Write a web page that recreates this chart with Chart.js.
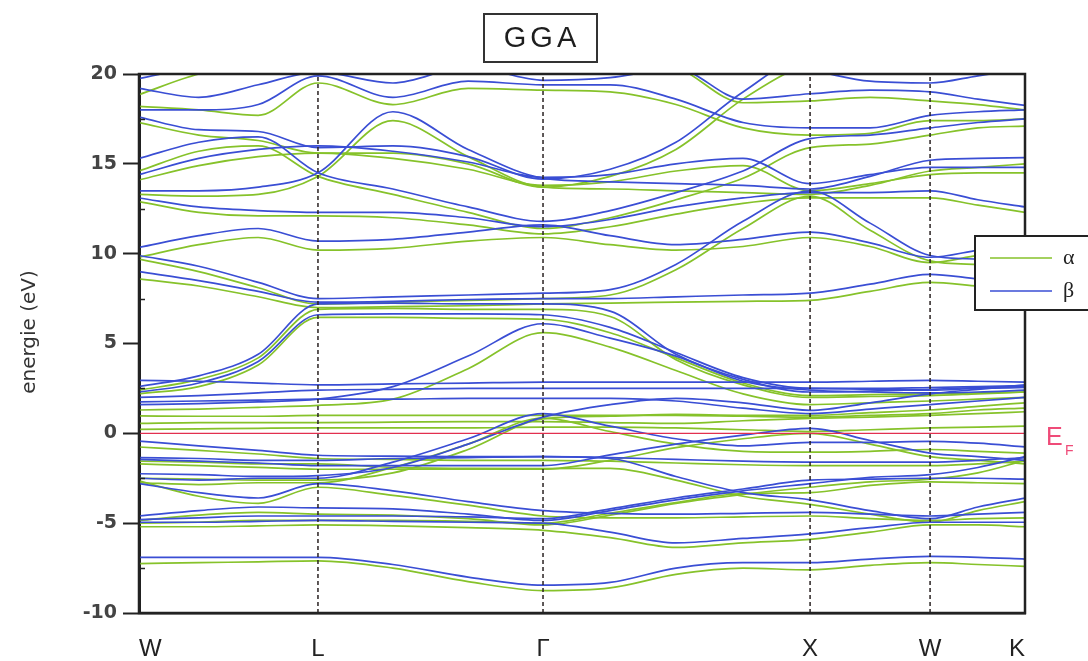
<!DOCTYPE html>
<html>
<head>
<meta charset="utf-8">
<script src="https://cdn.jsdelivr.net/npm/chart.js@4.4.1/dist/chart.umd.min.js"></script>
<style>
  html, body { margin: 0; padding: 0; background: #fff; }
  #wrap { width: 1088px; height: 661px; }
</style>
</head>
<body>
<div id="wrap"><canvas id="bands" width="1088" height="661"></canvas></div>
<script>
// k-path sample positions (W - L - Γ - X - W - K), in units of 2π/a
const kPath = [0, 0.236, 0.471, 0.707, 1.003, 1.3, 1.596, 1.861, 2.121, 2.386, 2.651, 2.888, 3.125, 3.314, 3.5];
const kTicks = [0, 0.707, 1.596, 2.651, 3.125, 3.5];
const kLabels = ['W', 'L', 'Γ', 'X', 'W', 'K'];
const energyTicks = [-10, -5, 0, 5, 10, 15, 20];
const spinLabels = ['α', 'β'];
const axisTitle = 'energie (eV)';
const fermiLevel = 0;

// spin-up (α) bands, eV, one row per band at the kPath samples
const alphaBands = [
  [-7.25,-7.2,-7.15,-7.1,-7.5,-8.25,-8.75,-8.6,-7.85,-7.5,-7.6,-7.35,-7.2,-7.3,-7.4],
  [-5.2,-5.2,-5.15,-5.1,-5.15,-5.25,-5.4,-5.8,-6.35,-6.1,-5.9,-5.5,-5.1,-5.1,-5.2],
  [-4.85,-4.55,-4.4,-4.5,-4.55,-4.75,-5.1,-4.55,-3.9,-3.4,-3.0,-2.7,-2.55,-2.2,-1.5],
  [-5.0,-4.95,-4.85,-4.85,-4.85,-4.9,-5.0,-4.45,-3.85,-3.35,-3.3,-2.9,-2.7,-2.75,-2.8],
  [-2.65,-3.5,-3.9,-3.0,-3.45,-4.0,-4.6,-4.7,-4.7,-4.65,-4.6,-4.75,-4.85,-4.75,-4.7],
  [-1.55,-1.6,-1.7,-1.7,-1.9,-1.95,-1.96,-1.95,-2.6,-3.5,-3.95,-4.5,-4.95,-4.3,-3.8],
  [-2.5,-2.55,-2.6,-2.6,-2.2,-0.9,0.8,0.95,1.05,1.0,1.0,1.15,1.3,1.5,1.7],
  [-2.75,-2.85,-2.75,-2.75,-1.9,-0.6,0.85,0.1,-0.6,-1.0,-1.05,-1.0,-0.9,-1.0,-1.1],
  [-0.76,-0.95,-1.15,-1.4,-1.45,-1.5,-1.5,-1.55,-1.65,-1.75,-1.8,-1.8,-1.8,-1.7,-1.55],
  [-1.7,-1.8,-1.9,-2.0,-2.0,-2.0,-2.0,-1.5,-0.8,-0.3,0.0,-0.6,-1.3,-1.5,-1.7],
  [0.22,0.25,0.28,0.3,0.3,0.3,0.35,0.35,0.3,0.2,0.1,0.2,0.3,0.35,0.4],
  [0.55,0.6,0.6,0.6,0.62,0.65,0.65,0.6,0.55,0.7,0.83,0.9,1.0,1.1,1.2],
  [0.97,0.95,0.95,1.0,1.0,1.0,1.0,1.0,1.0,0.95,0.9,1.0,1.1,1.3,1.4],
  [1.3,1.35,1.45,1.56,1.9,3.6,5.6,4.8,3.5,2.2,1.6,1.7,1.8,1.9,2.0],
  [2.2,2.6,3.8,6.45,6.45,6.4,6.35,5.6,4.2,2.8,2.1,2.15,2.2,2.25,2.3],
  [2.4,3.0,4.2,6.9,6.95,6.9,6.9,6.5,4.1,2.7,2.0,2.05,2.1,2.2,2.3],
  [8.6,8.2,7.6,7.0,7.05,7.1,7.2,7.25,7.3,7.35,7.4,7.9,8.4,8.2,8.0],
  [9.7,9.0,8.1,7.2,7.3,7.4,7.5,7.7,9.1,11.4,13.2,11.3,9.6,9.4,9.3],
  [9.8,10.5,10.9,10.2,10.3,10.7,10.9,10.5,10.2,10.4,10.9,10.4,9.5,9.9,10.2],
  [12.9,12.3,12.1,12.1,12.0,11.6,11.1,11.5,12.2,12.8,13.1,13.1,13.1,12.7,12.3],
  [13.3,13.2,13.3,14.3,17.4,15.4,13.7,13.6,13.5,13.4,13.3,13.8,14.6,14.8,15.0],
  [17.3,16.6,16.3,15.6,15.6,15.0,13.7,14.3,15.8,18.6,20.6,21,21,21,21],
  [14.6,15.7,16.0,14.3,13.3,12.3,11.4,12.0,13.0,14.2,15.9,16.1,16.6,17.0,17.1],
  [18.2,18.0,17.7,19.5,18.3,19.2,19.1,19.0,18.3,17.0,16.6,16.7,17.4,17.4,17.5],
  [18.85,20.0,20.6,21,21,21,21,21,20.4,18.4,18.5,18.7,18.5,18.3,18.0],
  [14.1,14.9,15.4,15.6,15.3,14.7,13.8,14.0,14.6,14.9,13.5,13.9,14.4,14.5,14.5]
];

// spin-down (β) bands, eV
const betaBands = [
  [-6.9,-6.9,-6.9,-6.9,-7.3,-8.0,-8.45,-8.3,-7.5,-7.2,-7.2,-7.0,-6.85,-6.9,-7.0],
  [-4.95,-4.95,-4.9,-4.85,-4.9,-4.95,-5.0,-5.5,-6.1,-5.85,-5.6,-5.25,-4.95,-4.95,-4.95],
  [-4.6,-4.3,-4.1,-4.15,-4.2,-4.5,-4.85,-4.3,-3.7,-3.2,-2.8,-2.45,-2.3,-1.9,-1.3],
  [-4.8,-4.7,-4.6,-4.6,-4.6,-4.65,-4.75,-4.2,-3.6,-3.1,-2.6,-2.55,-2.5,-2.5,-2.55],
  [-2.8,-3.3,-3.6,-2.8,-3.2,-3.8,-4.3,-4.45,-4.5,-4.45,-4.4,-4.5,-4.6,-4.5,-4.4],
  [-1.35,-1.4,-1.5,-1.5,-1.4,-1.35,-1.3,-1.4,-2.4,-3.3,-3.7,-4.3,-4.75,-4.1,-3.6],
  [-2.25,-2.3,-2.4,-2.35,-1.9,-0.6,0.9,1.6,1.95,1.7,1.28,1.7,2.2,2.45,2.7],
  [-2.5,-2.6,-2.5,-2.5,-1.6,-0.3,1.1,0.4,-0.3,-0.7,-0.5,-0.5,-0.45,-0.55,-0.75],
  [-0.43,-0.7,-0.95,-1.22,-1.27,-1.3,-1.3,-1.35,-1.45,-1.55,-1.6,-1.6,-1.6,-1.5,-1.35],
  [-1.45,-1.55,-1.65,-1.8,-1.8,-1.8,-1.8,-1.2,-0.6,-0.1,0.28,-0.4,-1.1,-1.3,-1.5],
  [1.75,1.8,1.85,1.9,1.9,1.95,1.95,1.95,1.8,1.4,1.1,1.35,1.6,1.8,2.0],
  [2.0,2.1,2.25,2.4,2.45,2.5,2.5,2.5,2.5,2.5,2.5,2.45,2.4,2.5,2.55],
  [2.95,2.9,2.8,2.7,2.75,2.8,2.85,2.85,2.85,2.85,2.85,2.9,2.95,2.9,2.85],
  [2.3,2.8,4.0,6.6,6.65,6.65,6.6,5.9,4.5,3.1,2.5,2.5,2.55,2.6,2.65],
  [2.6,3.2,4.4,7.2,7.25,7.2,7.2,6.8,4.4,3.0,2.3,2.35,2.45,2.55,2.6],
  [1.6,1.65,1.75,1.9,2.6,4.3,6.1,5.3,4.3,2.9,2.4,2.3,2.25,2.3,2.4],
  [9.0,8.5,7.9,7.3,7.35,7.45,7.5,7.5,7.6,7.7,7.8,8.3,8.85,8.6,8.4],
  [9.9,9.3,8.4,7.5,7.6,7.7,7.8,8.0,9.4,11.8,13.5,11.7,9.9,9.7,9.6],
  [10.35,11.0,11.4,10.7,10.8,11.2,11.6,11.0,10.5,10.8,11.2,10.6,9.8,10.2,10.6],
  [13.1,12.6,12.4,12.3,12.3,12.0,11.5,11.9,12.6,13.1,13.4,13.4,13.5,13.0,12.6],
  [13.5,13.5,13.7,14.5,17.9,15.8,14.2,14.0,13.9,13.8,13.6,14.3,15.2,15.3,15.35],
  [17.6,16.9,16.8,15.9,16.0,15.4,14.15,14.7,16.2,19.0,21,21,21,21,21],
  [15.3,16.2,16.5,14.5,13.6,12.6,11.8,12.4,13.4,14.6,16.4,16.6,17.0,17.3,17.5],
  [18.0,18.0,18.3,19.9,18.7,19.6,19.4,19.4,18.6,17.3,17.0,17.0,17.7,17.9,18.0],
  [19.2,18.7,19.4,20.1,19.5,20.4,19.65,19.8,20.3,18.6,18.9,19.1,19.0,18.6,18.25],
  [19.75,20.4,20.6,21,21,21,21,21,21,20.6,20.2,19.6,19.5,19.9,20.3],
  [14.4,15.3,15.8,16.0,15.7,15.1,14.25,14.4,15.0,15.3,13.9,14.4,14.8,14.8,14.8]
];

const ALPHA_COLOR = '#86c22a';
const BETA_COLOR = '#3a4ed4';
const FERMI_COLOR = '#e2304f';
const EMIN = -10, EMAX = 20;

function bandSet(rows, color, label) {
  return rows.map((row, i) => ({
    label: i === 0 ? label : '',
    data: row.map((e, j) => ({ x: kPath[j], y: e })),
    borderColor: color,
    borderWidth: 1.7,
    pointRadius: 0,
    cubicInterpolationMode: 'monotone',
    fill: false
  }));
}

// dashed markers at the interior high-symmetry points
const markerSets = kTicks.slice(1, -1).map(k => ({
  label: '',
  data: [{ x: k, y: EMIN }, { x: k, y: EMAX }],
  borderColor: '#2a2222',
  borderWidth: 1.5,
  borderDash: [4, 3],
  pointRadius: 0,
  tension: 0
}));

const fermiSet = {
  label: 'EF',
  data: [{ x: kTicks[0], y: fermiLevel }, { x: kTicks[kTicks.length - 1], y: fermiLevel }],
  borderColor: FERMI_COLOR,
  borderWidth: 1.3,
  pointRadius: 0,
  tension: 0
};

const decorations = {
  id: 'decorations',
  afterDraw(chart) {
    const { ctx, chartArea: a, scales } = chart;
    const ys = scales.y;
    ctx.save();

    // frame
    ctx.strokeStyle = '#222';
    ctx.lineWidth = 2.5;
    ctx.strokeRect(a.left, a.top, a.right - a.left, a.bottom - a.top);

    // minor ticks on the energy axis
    ctx.lineWidth = 1.5;
    for (let e = EMIN + 2.5; e < EMAX; e += 5) {
      const y = Math.round(ys.getPixelForValue(e)) + 0.5;
      ctx.beginPath();
      ctx.moveTo(a.left, y);
      ctx.lineTo(a.left + 6, y);
      ctx.stroke();
    }

    // energy axis title
    ctx.save();
    ctx.translate(30, 332);
    ctx.rotate(-Math.PI / 2);
    ctx.fillStyle = '#333';
    ctx.font = '20px "DejaVu Sans", sans-serif';
    ctx.textAlign = 'center';
    ctx.textBaseline = 'middle';
    ctx.fillText(axisTitle, 0, 0);
    ctx.restore();

    // boxed title
    ctx.lineWidth = 2;
    ctx.strokeStyle = '#333';
    ctx.strokeRect(484, 14, 113, 48);
    ctx.fillStyle = '#1e1e1e';
    ctx.font = '29px "Liberation Sans", Arial, sans-serif';
    ctx.textAlign = 'center';
    ctx.textBaseline = 'middle';
    if ('letterSpacing' in ctx) ctx.letterSpacing = '4px';
    ctx.fillText('GGA', 542, 39);
    if ('letterSpacing' in ctx) ctx.letterSpacing = '0px';

    // spin legend
    const lx = 975, ly = 236;
    ctx.fillStyle = '#fff';
    ctx.fillRect(lx, ly, 120, 74);
    ctx.strokeStyle = '#222';
    ctx.lineWidth = 2;
    ctx.strokeRect(lx, ly, 120, 74);
    const rows = [[spinLabels[0], ALPHA_COLOR, ly + 22], [spinLabels[1], BETA_COLOR, ly + 55]];
    ctx.font = '22px "Liberation Serif", "DejaVu Serif", serif';
    ctx.textAlign = 'left';
    rows.forEach(([txt, col, y]) => {
      ctx.strokeStyle = col;
      ctx.lineWidth = 1.6;
      ctx.beginPath();
      ctx.moveTo(lx + 15, y);
      ctx.lineTo(lx + 77, y);
      ctx.stroke();
      ctx.fillStyle = '#222';
      ctx.fillText(txt, lx + 88, y);
    });

    // Fermi level label
    const yf = ys.getPixelForValue(fermiLevel);
    ctx.fillStyle = '#ef4b78';
    ctx.textBaseline = 'alphabetic';
    ctx.font = '25px "Liberation Sans", Arial, sans-serif';
    ctx.fillText('E', 1046, yf + 12);
    ctx.font = '14px "Liberation Sans", Arial, sans-serif';
    ctx.fillText('F', 1065, yf + 22);

    ctx.restore();
  }
};

Chart.defaults.font.family = '"Liberation Sans", Arial, sans-serif';

new Chart(document.getElementById('bands'), {
  type: 'line',
  data: {
    datasets: [
      ...markerSets,
      fermiSet,
      ...bandSet(betaBands, BETA_COLOR, spinLabels[1]),
      ...bandSet(alphaBands, ALPHA_COLOR, spinLabels[0])
    ]
  },
  options: {
    responsive: false,
    animation: false,
    devicePixelRatio: 1,
    layout: { padding: { top: 74, right: 63, bottom: 0, left: 0 } },
    plugins: { legend: { display: false }, tooltip: { enabled: false }, title: { display: false } },
    scales: {
      x: {
        type: 'linear',
        min: kTicks[0],
        max: kTicks[kTicks.length - 1],
        afterBuildTicks: s => { s.ticks = kTicks.map(v => ({ value: v })); },
        afterFit: s => { s.height = 48; },
        ticks: {
          autoSkip: false,
          maxRotation: 0,
          align: 'inner',
          padding: 22,
          color: '#222',
          font: { size: 24 },
          callback: (v, i) => kLabels[i]
        },
        grid: { display: false, drawTicks: false },
        border: { display: true, color: '#222', width: 2.5 }
      },
      y: {
        min: EMIN,
        max: EMAX,
        afterBuildTicks: s => { s.ticks = energyTicks.map(v => ({ value: v })); },
        afterFit: s => { s.width = 139; },
        ticks: {
          padding: 6,
          color: '#444',
          font: { family: '"DejaVu Sans", sans-serif', weight: 'bold', size: 19 }
        },
        grid: { drawOnChartArea: false, drawTicks: true, tickLength: 16, tickWidth: 2, tickColor: '#222' },
        border: { display: true, color: '#222', width: 3 },
        title: { display: false }
      }
    }
  },
  plugins: [decorations]
});
</script>
</body>
</html>
